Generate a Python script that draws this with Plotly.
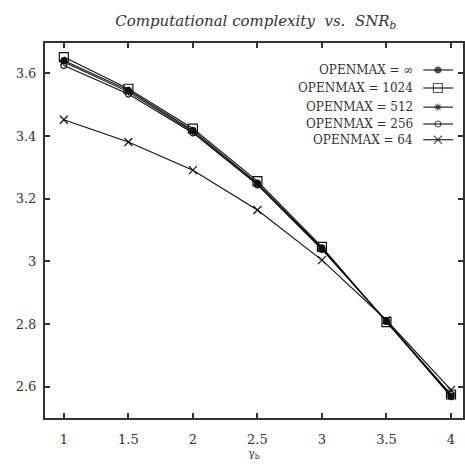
import plotly.graph_objects as go

# gamma_b values on the x axis
gamma_b = [1, 1.5, 2, 2.5, 3, 3.5, 4]

# complexity for each OPENMAX setting
series_names = ["OPENMAX = ∞", "OPENMAX = 1024", "OPENMAX = 512", "OPENMAX = 256", "OPENMAX = 64"]
cx_inf = [3.641, 3.546, 3.418, 3.250, 3.043, 2.808, 2.568]
cx_1024 = [3.652, 3.551, 3.424, 3.256, 3.046, 2.806, 2.575]
cx_512 = [3.636, 3.541, 3.414, 3.247, 3.040, 2.808, 2.570]
cx_256 = [3.625, 3.534, 3.410, 3.244, 3.038, 2.809, 2.575]
cx_64 = [3.452, 3.381, 3.291, 3.164, 3.004, 2.812, 2.590]

x_ticks = [1, 1.5, 2, 2.5, 3, 3.5, 4]
x_tick_labels = ["1", "1.5", "2", "2.5", "3", "3.5", "4"]
y_ticks = [2.6, 2.8, 3.0, 3.2, 3.4, 3.6]
y_tick_labels = ["2.6", "2.8", "3", "3.2", "3.4", "3.6"]

all_series = [cx_inf, cx_1024, cx_512, cx_256, cx_64]
symbols = ["circle", "square-open", "asterisk-open", "circle-open", "x-thin-open"]
sizes = [6, 9, 6, 6, 8]

FONT = "DejaVu Serif"
INK = "#111111"
TEXT = "#333333"

fig = go.Figure()

for name, vals, sym, sz in zip(series_names, all_series, symbols, sizes):
    fig.add_trace(go.Scatter(
        x=gamma_b, y=vals, name=name, mode="lines+markers",
        line=dict(color=INK, width=1.1),
        marker=dict(symbol=sym, size=sz, color=INK, line=dict(color=INK, width=1.2)),
        showlegend=False,
    ))

# hand-drawn key: text on the left, line sample with marker on the right
row_y = [0.928, 0.880, 0.829, 0.784, 0.742]
key_x = [0.905, 0.94, 0.976]
for name, sym, sz, ry in zip(series_names, symbols, sizes, row_y):
    fig.add_trace(go.Scatter(
        x=key_x, y=[ry] * 3, xaxis="x2", yaxis="y2", mode="lines+markers",
        line=dict(color=INK, width=1.1),
        marker=dict(symbol=sym, size=[0, sz, 0], color=INK, line=dict(color=INK, width=1.2)),
        showlegend=False, hoverinfo="skip",
    ))
    fig.add_annotation(
        x=0.886, y=ry, xref="paper", yref="paper", text=name, showarrow=False,
        xanchor="right", yanchor="middle", font=dict(family=FONT, size=12, color=TEXT),
    )

axis_common = dict(
    showline=True, linewidth=2, linecolor=TEXT, mirror="ticks",
    ticks="inside", ticklen=5, tickwidth=1.5, tickcolor=TEXT,
    showgrid=False, zeroline=False,
    tickfont=dict(family=FONT, size=13, color=TEXT),
)

fig.update_layout(
    width=465, height=464,
    margin=dict(l=45, r=0, t=43, b=46),
    paper_bgcolor="white", plot_bgcolor="white",
    title=dict(
        text="<i>Computational complexity  vs.  SNR<sub>b</sub></i>",
        x=0.55, xanchor="center", y=0.955, yanchor="middle",
        font=dict(family=FONT, size=15, color=TEXT),
    ),
    xaxis=dict(range=[0.854, 4.093], tickvals=x_ticks, ticktext=x_tick_labels,
               ticklabelstandoff=8,
               title=dict(text="γ<sub>b</sub>", standoff=0, font=dict(family=FONT, size=11, color=TEXT)),
               **axis_common),
    yaxis=dict(range=[2.5, 3.697], tickvals=y_ticks, ticktext=y_tick_labels,
               ticklabelstandoff=4,
               **axis_common),
    xaxis2=dict(overlaying="x", range=[0, 1], visible=False, domain=[0, 1]),
    yaxis2=dict(overlaying="y", range=[0, 1], visible=False),
    showlegend=False,
)

fig.write_html("out.html")
